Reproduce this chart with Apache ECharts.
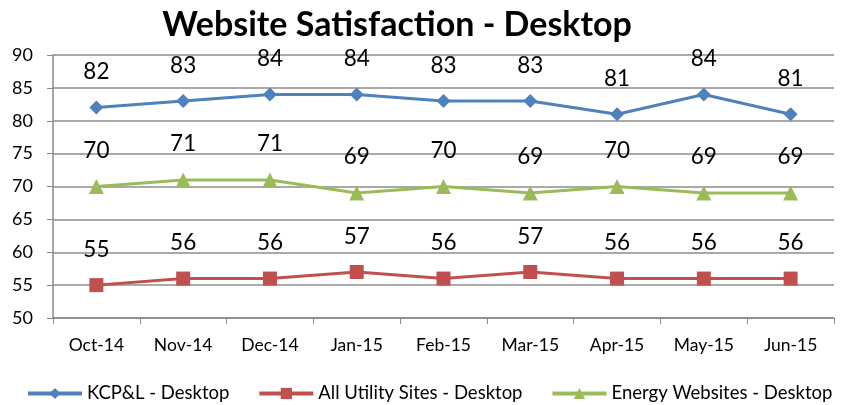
<!DOCTYPE html>
<html><head><meta charset="utf-8">
<script src="https://cdn.jsdelivr.net/npm/echarts@6/dist/echarts.min.js"></script>
<style>html,body{margin:0;padding:0;background:#fff}#c{width:842px;height:405px}</style>
</head><body><div id="c"></div>
<script>
const categories = ['Oct-14','Nov-14','Dec-14','Jan-15','Feb-15','Mar-15','Apr-15','May-15','Jun-15'];
const kcpl = [82,83,84,84,83,83,81,84,81];
const allUtility = [55,56,56,57,56,57,56,56,56];
const energy = [70,71,71,69,70,69,70,69,69];
const seriesNames = ['KCP&L - Desktop','All Utility Sites - Desktop','Energy Websites - Desktop'];
const FONT = 'Lato, "Open Sans", sans-serif';

function mk(name, data, color, symbol, size) {
  return {
    name, type: 'line', data,
    symbol, symbolSize: size,
    lineStyle: {color, width: 3},
    itemStyle: {color},
    label: {show: true, position: 'top', distance: 17, fontSize: 22.5, color: '#000', fontFamily: FONT},
    emphasis: {disabled: true}
  };
}

const chart = echarts.init(document.getElementById('c'));
chart.setOption({
  animation: false,
  title: {text: 'Website Satisfaction - Desktop', left: 392, top: 3, textAlign: 'center',
    textStyle: {fontSize: 34, fontWeight: 'bold', fontFamily: FONT, color: '#000'}},
  grid: {left: 53, right: 8, top: 55, bottom: 87, containLabel: false},
  legend: {bottom: 2, left: 26, width: 816, padding: 0, itemWidth: 54, itemHeight: 14, itemGap: 28,
    lineStyle: {width: 4},
    textStyle: {fontSize: 18.5, fontFamily: FONT, color: '#000'}, data: seriesNames},
  xAxis: {type: 'category', data: categories, boundaryGap: true,
    axisLine: {lineStyle: {color: '#888', width: 1.5}},
    axisTick: {show: true, length: 6, lineStyle: {color: '#888'}},
    axisLabel: {fontSize: 17.5, color: '#000', fontFamily: FONT, margin: 18}},
  yAxis: {type: 'value', min: 50, max: 90, interval: 5,
    axisLine: {show: true, lineStyle: {color: '#888', width: 1.5}},
    axisTick: {show: true, length: 6, lineStyle: {color: '#888'}},
    splitLine: {lineStyle: {color: '#8c8c8c', width: 1.5}},
    axisLabel: {fontSize: 18, color: '#000', fontFamily: FONT, margin: 20}},
  series: [
    mk(seriesNames[0], kcpl, '#4F81BD', 'diamond', 14),
    mk(seriesNames[1], allUtility, '#C0504D', 'rect', 14),
    mk(seriesNames[2], energy, '#9BBB59', 'triangle', 15)
  ]
});
</script></body></html>
